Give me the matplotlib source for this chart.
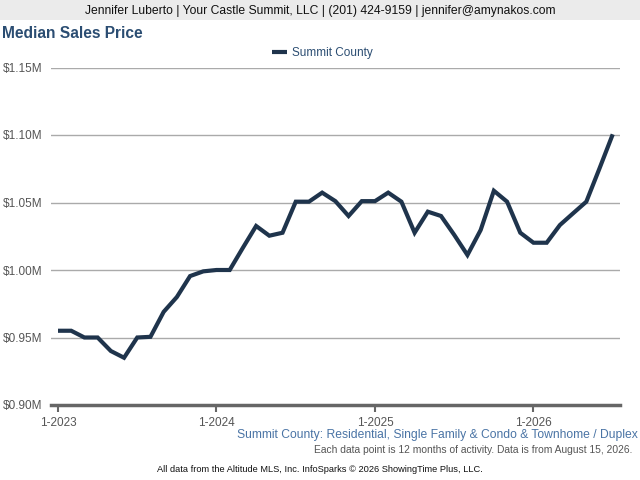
import matplotlib
matplotlib.use('Agg')
import matplotlib.pyplot as plt
from matplotlib.patches import Rectangle

plt.rcParams['font.family'] = ['Liberation Sans', 'DejaVu Sans']

# months since 1-2023, one point per month (12 month rolling median)
prices = [0.955, 0.955, 0.950, 0.950, 0.940, 0.935, 0.950, 0.9505, 0.969, 0.980,
          0.9955, 0.999, 1.000, 1.000, 1.0165, 1.0326, 1.0254, 1.0276, 1.0506, 1.0506,
          1.0573, 1.051, 1.040, 1.051, 1.051, 1.0573, 1.0506, 1.0276, 1.0432, 1.040,
          1.026, 1.0111, 1.0296, 1.0587, 1.0506, 1.0276, 1.0202, 1.0202, 1.0333, 1.042,
          1.0506, 1.0753, 1.1005]
months = list(range(len(prices)))
tick_pos = [0, 12, 24, 36]
tick_labels = ['1-2023', '1-2024', '1-2025', '1-2026']
y_ticks = [0.90, 0.95, 1.00, 1.05, 1.10, 1.15]
y_labels = ['$0.90M', '$0.95M', '$1.00M', '$1.05M', '$1.10M', '$1.15M']

line_color = '#1f344c'
title_color = '#2b4d72'
gray = '#555555'

fig = plt.figure(figsize=(6.4, 4.8), dpi=100)
fig.patch.set_facecolor('white')

# header band
fig.patches.append(Rectangle((0, 1 - 20 / 480), 1, 20 / 480, transform=fig.transFigure,
                             facecolor='#ebebeb', edgecolor='none', zorder=0))
fig.text(0.5, 1 - 11 / 480, 'Jennifer Luberto | Your Castle Summit, LLC | (201) 424-9159 | jennifer@amynakos.com',
         ha='center', va='center', fontsize=8.7, color='#111111')
fig.text(2 / 640, 1 - 34 / 480, 'Median Sales Price', ha='left', va='center',
         fontsize=11.2, fontweight='bold', color=title_color)

ax = fig.add_axes([51 / 640, 75 / 480, 569 / 640, 337.5 / 480])
ax.plot(months, prices, color=line_color, linewidth=3, solid_joinstyle='miter',
        solid_capstyle='butt', label='Summit County', zorder=3)
ax.set_xlim(-0.53, 42.55)
ax.set_ylim(0.90, 1.15)
ax.set_yticks(y_ticks)
ax.set_yticklabels(y_labels)
ax.set_xticks(tick_pos)
ax.set_xticklabels(tick_labels)
ax.grid(axis='y', color='#aaaaaa', linewidth=1)
ax.set_axisbelow(True)
for s in ['top', 'right', 'left']:
    ax.spines[s].set_visible(False)
ax.spines['bottom'].set_color('#666666')
ax.spines['bottom'].set_linewidth(2.5)
ax.spines['bottom'].set_zorder(4)
ax.tick_params(axis='y', length=0, pad=6, labelsize=8.5, labelcolor=gray)
ax.tick_params(axis='x', length=5, width=1.5, color='#666666', pad=3.5,
               labelsize=8.5, labelcolor=gray)

leg = fig.legend(loc='center', bbox_to_anchor=(322 / 640, 1 - 53 / 480), frameon=False,
                 fontsize=8.5, handlelength=1.3, handletextpad=0.4)
for t in leg.get_texts():
    t.set_color(title_color)

fig.text(638 / 640, 1 - 435 / 480, 'Summit County: Residential, Single Family & Condo & Townhome / Duplex',
         ha='right', va='center', fontsize=8.7, color='#4a74a5')
fig.text(632 / 640, 1 - 450 / 480, 'Each data point is 12 months of activity. Data is from August 15, 2026.',
         ha='right', va='center', fontsize=7.4, color=gray)
fig.text(0.5, 1 - 470 / 480, 'All data from the Altitude MLS, Inc. InfoSparks \u00a9 2026 ShowingTime Plus, LLC.',
         ha='center', va='center', fontsize=6.7, color='#111111')

fig.savefig('out.png', dpi=100)
